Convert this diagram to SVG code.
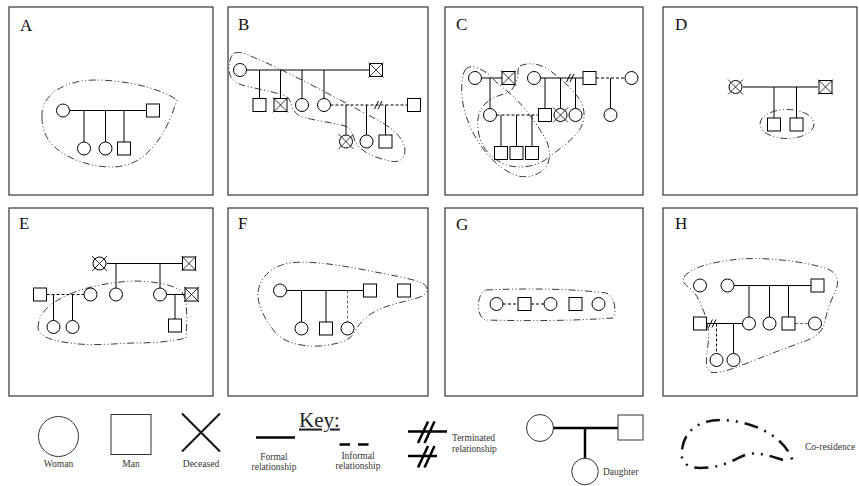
<svg xmlns="http://www.w3.org/2000/svg" width="859" height="486" viewBox="0 0 859 486">
<style>
.frame{fill:#fff;stroke:#333;stroke-width:1.2}
.lbl{font-family:"Liberation Serif",serif;font-size:17px;fill:#111}
.n{fill:#fff;stroke:#000;stroke-width:1}
.x{fill:none;stroke:#000;stroke-width:0.8}
.ln{fill:none;stroke:#000;stroke-width:1}
.dl{fill:none;stroke:#000;stroke-width:1;stroke-dasharray:3 2}
.dg{fill:none;stroke:#666;stroke-width:1;stroke-dasharray:3 2}
.co{fill:none;stroke:#222;stroke-width:0.9;stroke-dasharray:7 2.5 1 2.5 1 2.5}
.kt{font-family:"Liberation Serif",serif;font-size:9.5px;fill:#333}
.kn{fill:#fff;stroke:#333;stroke-width:1}
.kl{fill:none;stroke:#000;stroke-width:2.5}
</style>
<defs>
<path id="dx" d="M-7.5,-7.5 L7.5,7.5 M7.5,-7.5 L-7.5,7.5"/>
<path id="term" d="M-4.5,4 L-0.5,-4 M-1,4 L3,-4"/>
</defs>

<g id="frames">
<rect class="frame" x="9" y="7" width="204" height="188"/>
<rect class="frame" x="228" y="7" width="200" height="188"/>
<rect class="frame" x="445" y="7" width="198" height="188"/>
<rect class="frame" x="663" y="7" width="194" height="188"/>
<rect class="frame" x="9" y="208" width="204" height="188"/>
<rect class="frame" x="228" y="208" width="200" height="188"/>
<rect class="frame" x="445" y="208" width="198" height="188"/>
<rect class="frame" x="663" y="208" width="194" height="188"/>
<text class="lbl" x="20" y="31">A</text>
<text class="lbl" x="238" y="30">B</text>
<text class="lbl" x="456" y="30">C</text>
<text class="lbl" x="675" y="30">D</text>
<text class="lbl" x="19" y="229">E</text>
<text class="lbl" x="238" y="229">F</text>
<text class="lbl" x="456" y="230">G</text>
<text class="lbl" x="675" y="229">H</text>
</g>

<g id="connectors">
<!-- A -->
<path class="ln" d="M69.5,110.5 H146.5 M84,110.5 V142 M105.5,110.5 V142 M124,110.5 V142"/>
<!-- B -->
<path class="ln" d="M246.5,70 H369.5 M259.5,70 V98.5 M280.5,70 V98.5 M302,70 V98.5 M324,70 V98.5 M346,105 V135 M366.5,105 V135 M385.5,105 V135"/>
<path class="dl" d="M330.5,105 H407.5"/>
<use href="#term" x="379" y="105" class="ln"/>
<!-- C -->
<path class="ln" d="M481.5,78 H502 M490,78 V108.5 M540.5,78 H583 M545,78 V108.5 M560.5,78 V108.5 M575.5,78 V108.5 M610.5,78 V108.5 M501,115 V146.5 M516.5,115 V146.5 M532,115 V146.5"/>
<path class="dl" d="M596,78 H625 M496.5,115 H538.5"/>
<use href="#term" x="571" y="78" class="ln"/>
<!-- D -->
<path class="ln" d="M743,87 H818 M774,87 V118 M796.5,87 V118"/>
<!-- E -->
<path class="ln" d="M107,263.5 H182 M116,263.5 V288 M160,263.5 V288 M166.5,294.5 H185 M175,294.5 V319 M53.5,294.5 V320.5 M72.5,294.5 V320.5"/>
<path class="dl" d="M46.5,294.5 H84"/>
<!-- F -->
<path class="ln" d="M286.5,290.5 H363.5 M301.5,290.5 V322 M326,290.5 V322"/>
<path class="dg" d="M347.5,290.5 V322"/>
<!-- G -->
<path class="dl" d="M503,304 H518 M531,304 H544"/>
<!-- H -->
<path class="ln" d="M734,285.5 H811 M749,285.5 V317 M769.5,285.5 V317 M788.5,285.5 V317 M706.5,323.5 H742.5 M733.5,323.5 V353.5"/>
<path class="dg" d="M795,323.5 H808.5"/>
<path class="dl" d="M716.5,323.5 V353.5"/>
<use href="#term" x="713" y="323.5" class="ln"/>
</g>

<!-- Panel A nodes -->
<g id="A-w1"><circle class="n" cx="63" cy="110.5" r="6.5"/></g>
<g id="A-m1"><rect class="n" x="146.5" y="104" width="13" height="13"/></g>
<g id="A-w2"><circle class="n" cx="84" cy="148.5" r="6.5"/></g>
<g id="A-w3"><circle class="n" cx="105.5" cy="148.5" r="6.5"/></g>
<g id="A-m2"><rect class="n" x="117.5" y="142" width="13" height="13"/></g>

<!-- Panel B nodes -->
<g id="B-w1"><circle class="n" cx="240" cy="70" r="6.5"/></g>
<g id="B-m1"><rect class="n" x="369.5" y="63.5" width="13" height="13"/><use href="#dx" x="376" y="70" class="x"/></g>
<g id="B-m2"><rect class="n" x="253" y="98.5" width="13" height="13"/></g>
<g id="B-m3"><rect class="n" x="274" y="98.5" width="13" height="13"/><use href="#dx" x="280.5" y="105" class="x"/></g>
<g id="B-w2"><circle class="n" cx="302" cy="105" r="6.5"/></g>
<g id="B-w3"><circle class="n" cx="324" cy="105" r="6.5"/></g>
<g id="B-m4"><rect class="n" x="407.5" y="98.5" width="13" height="13"/></g>
<g id="B-w4"><circle class="n" cx="346" cy="141.5" r="6.5"/><use href="#dx" x="346" y="141.5" class="x"/></g>
<g id="B-w5"><circle class="n" cx="366.5" cy="141.5" r="6.5"/></g>
<g id="B-m5"><rect class="n" x="379" y="135" width="13" height="13"/></g>

<!-- Panel C nodes -->
<g id="C-w1"><circle class="n" cx="475" cy="78" r="6.5"/></g>
<g id="C-m1"><rect class="n" x="502" y="71.5" width="13" height="13"/><use href="#dx" x="508.5" y="78" class="x"/></g>
<g id="C-w2"><circle class="n" cx="490" cy="115" r="6.5"/></g>
<g id="C-w3"><circle class="n" cx="534" cy="78" r="6.5"/></g>
<g id="C-m2"><rect class="n" x="583" y="71.5" width="13" height="13"/></g>
<g id="C-w6"><circle class="n" cx="631.5" cy="78" r="6.5"/></g>
<g id="C-m3"><rect class="n" x="538.5" y="108.5" width="13" height="13"/></g>
<g id="C-w4"><circle class="n" cx="560.5" cy="115" r="6.5"/><use href="#dx" x="560.5" y="115" class="x"/></g>
<g id="C-w5"><circle class="n" cx="575.5" cy="115" r="6.5"/></g>
<g id="C-w7"><circle class="n" cx="610.5" cy="115" r="6.5"/></g>
<g id="C-m4"><rect class="n" x="494.5" y="146.5" width="13" height="13"/></g>
<g id="C-m5"><rect class="n" x="510" y="146.5" width="13" height="13"/></g>
<g id="C-m6"><rect class="n" x="525.5" y="146.5" width="13" height="13"/></g>

<!-- Panel D nodes -->
<g id="D-w1"><circle class="n" cx="735.5" cy="87" r="6.5"/><use href="#dx" x="735.5" y="87" class="x"/></g>
<g id="D-m1"><rect class="n" x="819" y="80.5" width="13" height="13"/><use href="#dx" x="825.5" y="87" class="x"/></g>
<g id="D-m2"><rect class="n" x="767.5" y="118" width="13" height="13"/></g>
<g id="D-m3"><rect class="n" x="790" y="118" width="13" height="13"/></g>

<!-- Panel E nodes -->
<g id="E-w1"><circle class="n" cx="99.5" cy="263.5" r="6.5"/><use href="#dx" x="99.5" y="263.5" class="x"/></g>
<g id="E-m1"><rect class="n" x="182.5" y="257" width="13" height="13"/><use href="#dx" x="189" y="263.5" class="x"/></g>
<g id="E-w2"><circle class="n" cx="116" cy="294.5" r="6.5"/></g>
<g id="E-w3"><circle class="n" cx="160" cy="294.5" r="6.5"/></g>
<g id="E-m2"><rect class="n" x="185" y="288" width="13" height="13"/><use href="#dx" x="191.5" y="294.5" class="x"/></g>
<g id="E-m3"><rect class="n" x="168.5" y="319" width="13" height="13"/></g>
<g id="E-m4"><rect class="n" x="33.5" y="288" width="13" height="13"/></g>
<g id="E-w4"><circle class="n" cx="90.5" cy="294.5" r="6.5"/></g>
<g id="E-w5"><circle class="n" cx="53.5" cy="327" r="6.5"/></g>
<g id="E-w6"><circle class="n" cx="72.5" cy="327" r="6.5"/></g>

<!-- Panel F nodes -->
<g id="F-w1"><circle class="n" cx="280" cy="290.5" r="6.5"/></g>
<g id="F-m1"><rect class="n" x="363.5" y="284" width="13" height="13"/></g>
<g id="F-m3"><rect class="n" x="397.5" y="284" width="13" height="13"/></g>
<g id="F-w2"><circle class="n" cx="301.5" cy="328.5" r="6.5"/></g>
<g id="F-m2"><rect class="n" x="319.5" y="322" width="13" height="13"/></g>
<g id="F-w3"><circle class="n" cx="347.5" cy="328.5" r="6.5"/></g>

<!-- Panel G nodes -->
<g id="G-w1"><circle class="n" cx="496.5" cy="304" r="6.5"/></g>
<g id="G-m1"><rect class="n" x="518" y="297.5" width="13" height="13"/></g>
<g id="G-w2"><circle class="n" cx="550.5" cy="304" r="6.5"/></g>
<g id="G-m2"><rect class="n" x="569" y="297.5" width="13" height="13"/></g>
<g id="G-w3"><circle class="n" cx="598.5" cy="304" r="6.5"/></g>

<!-- Panel H nodes -->
<g id="H-w1"><circle class="n" cx="700" cy="285.5" r="6.5"/></g>
<g id="H-w2"><circle class="n" cx="727.5" cy="285.5" r="6.5"/></g>
<g id="H-m1"><rect class="n" x="811" y="279" width="13" height="13"/></g>
<g id="H-w3"><circle class="n" cx="749" cy="323.5" r="6.5"/></g>
<g id="H-w4"><circle class="n" cx="769.5" cy="323.5" r="6.5"/></g>
<g id="H-m2"><rect class="n" x="782" y="317" width="13" height="13"/></g>
<g id="H-w5"><circle class="n" cx="815" cy="323.5" r="6.5"/></g>
<g id="H-m3"><rect class="n" x="693.5" y="317" width="13" height="13"/></g>
<g id="H-w6"><circle class="n" cx="716.5" cy="360" r="6.5"/></g>
<g id="H-w7"><circle class="n" cx="733.5" cy="360" r="6.5"/></g>

<g id="coresidence">
<path class="co" d="M42,117 C40,95 65,80 95,80 C125,80 160,88 177,100 C172,115 165,135 150,150 C140,162 125,167 112,167 C85,167 60,155 50,142 C44,134 42,126 42,117 Z"/>
<path class="co" d="M235,53 C242,51 248,55 255,58 C285,70 340,100 372,117 C390,126 405,138 405,150 C405,160 398,163 390,161 C375,158 362,152 356,143 C352,135 352,128 345,126 C330,122 310,120 300,116 C292,112 292,104 289,99 C285,93 260,90 242,85 C232,82 228,75 229,66 C230,58 232,54 235,53 Z"/>
<path class="co" d="M465,70 C468,66 474,66 478,68 C484,71 489,74 492,78 C500,86 510,93 517,100 C528,112 540,128 547,142 C551,152 550,163 545,168 C538,176 527,178 518,176 C505,172 493,162 484,150 C474,137 466,120 463,104 C461,92 461,78 465,70 Z"/>
<path class="co" d="M520,66 C530,61 545,65 553,73 C562,80 575,90 582,104 C586,115 584,124 578,132 C570,142 558,150 545,160 C535,167 520,168 510,166 C495,162 482,150 479,135 C476,122 478,110 486,103 C493,96 503,95 509,92 C515,88 517,80 518,75 C518,70 518,67 520,66 Z"/>
<ellipse class="co" cx="787" cy="124" rx="27" ry="14.5"/>
<path class="co" d="M38,328 C38,315 48,305 60,299 C75,290 100,283 133,281 C155,281 175,285 182,292 C188,300 187,320 186,338 C170,342 150,343 133,343 C110,344 90,346 70,343 C55,341 40,338 38,328 Z"/>
<path class="co" d="M258,292 C260,278 270,268 285,264 C300,260 330,263 365,270 C390,275 410,278 422,283 C430,287 428,294 420,297 C405,302 390,304 378,310 C365,316 358,325 354,333 C350,340 340,344 320,346 C300,347 283,342 275,332 C265,320 257,305 258,292 Z"/>
<path class="co" d="M486,290 C530,288 575,289 606,293 C615,296 617,312 613,318 C570,321 525,321 485,320 C476,316 476,294 486,290 Z"/>
<path class="co" d="M684,277 C690,268 710,262 740,259 C770,257 805,262 825,268 C838,272 840,282 835,292 C830,302 826,315 824,325 C820,335 812,339 800,343 C780,350 760,358 745,364 C730,370 718,374 710,372 C705,368 706,360 708,345 C710,330 706,315 701,305 C697,295 693,290 688,287 C684,284 682,280 684,277 Z"/>
</g>

<g id="key">
<text x="299" y="426.5" style="font-family:'Liberation Serif',serif;font-size:21px;fill:#222;text-decoration:underline">Key:</text>
<g id="key-woman"><circle class="kn" cx="58.5" cy="436.5" r="20"/><text class="kt" x="58.5" y="467" text-anchor="middle">Woman</text></g>
<g id="key-man"><rect class="kn" x="111" y="414.5" width="40" height="40"/><text class="kt" x="131" y="467" text-anchor="middle">Man</text></g>
<g id="key-deceased"><path d="M182,413.5 L220,451.5 M220,413.5 L182,451.5" fill="none" stroke="#111" stroke-width="2"/><text class="kt" x="201" y="467" text-anchor="middle">Deceased</text></g>
<g id="key-formal"><path class="kl" d="M256,437.5 H295"/><text class="kt" x="274" y="459.5" text-anchor="middle">Formal</text><text class="kt" x="274" y="469.5" text-anchor="middle">relationship</text></g>
<g id="key-informal"><path class="kl" d="M339.5,444.5 H350 M358,444.5 H368.5"/><text class="kt" x="358" y="458.5" text-anchor="middle">Informal</text><text class="kt" x="358" y="469" text-anchor="middle">relationship</text></g>
<g id="key-terminated"><path class="kl" d="M408,431.5 H447 M418,443 L428,421.5 M424.5,443 L434.5,421.5 M408,456 H437 M418,467.5 L428,446 M424.5,467.5 L434.5,446"/><text class="kt" x="452" y="441">Terminated</text><text class="kt" x="452" y="451.5">relationship</text></g>
<g id="key-daughter"><circle class="kn" cx="540" cy="428" r="13.5"/><rect class="kn" x="618" y="415" width="25" height="25"/><path class="kl" d="M553.5,428 H618 M585,428 V458.5"/><circle class="kn" cx="585" cy="471.5" r="13.3"/><text class="kt" x="603" y="475">Daughter</text></g>
<g id="key-coresidence"><path d="M783,460 C770,456 760,452 748,454 C735,458 725,468 700,468 C685,468 680,460 682,450 C684,430 700,420 720,420 C750,420 785,435 793,462" fill="none" stroke="#111" stroke-width="2.5" stroke-dasharray="14 7 2 7 2 7"/><text class="kt" x="805" y="450">Co-residence</text></g>
</g>
</svg>
